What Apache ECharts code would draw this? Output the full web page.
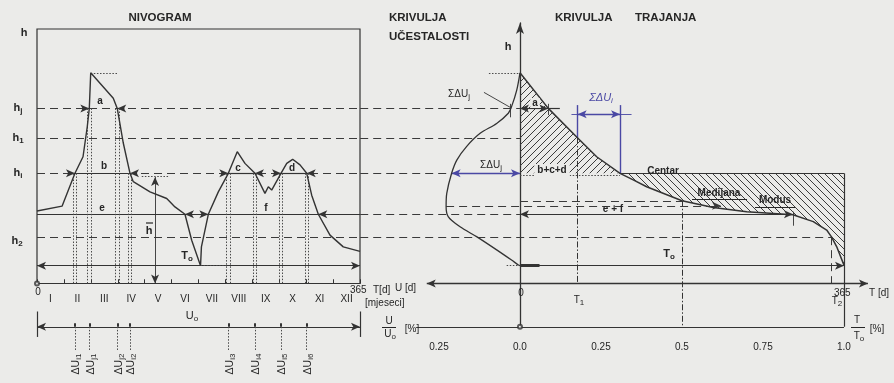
<!DOCTYPE html>
<html><head><meta charset="utf-8">
<script src="https://cdn.jsdelivr.net/npm/echarts@6/dist/echarts.min.js"></script>
<style>html,body{margin:0;padding:0;background:#ebebe9;}#c{width:894px;height:383px;}</style>
</head><body><div id="c"></div>
<script>
// ---------------- data ----------------
const months = ['I','II','III','IV','V','VI','VII','VIII','IX','X','XI','XII'];
// nivogram: water level h over the year, T in days
const nivoT = [0, 28.3, 42.9, 52.0, 56.8, 59.1, 60.7, 86.2, 90.7, 97.5, 105.1, 108.8, 127.7, 146.6, 155.9, 167.2, 174.8, 184.8, 185.8, 193.6, 204.9, 216.2, 226.3, 235.0, 246.3, 257.6, 261.4, 265.2, 275.7, 282.2, 288.9, 297.2, 304.8, 310.4, 317.9, 331.1, 346.1, 365];
const nivoH = [28.5, 30.4, 43.3, 49.8, 61.6, 68.8, 82.8, 72.8, 68.8, 55.2, 43.3, 40.0, 36.0, 33.4, 30.1, 27.2, 17.0, 7.0, 14.4, 27.2, 36.0, 43.3, 51.8, 47.2, 43.3, 35.4, 38.0, 36.7, 43.3, 47.2, 48.8, 46.6, 43.3, 34.7, 27.2, 19.0, 14.4, 12.6];
// duration curve (krivulja trajanja)
const durT = [0, 31.9, 65.0, 86.4, 112.7, 127.6, 142.7, 182.5, 217.8, 255.4, 307.5, 330.4, 345.5, 351.1, 356.7, 364.2, 365];
const durH = [82.8, 68.8, 57.2, 49.8, 43.3, 40.7, 38.0, 32.5, 29.9, 28.2, 27.0, 24.3, 21.0, 18.2, 14.5, 7.9, 7.0];
// frequency curve (krivulja ucestalosti), U/U0
const freqU = [0, 0.010, 0.026, 0.036, 0.072, 0.123, 0.165, 0.195, 0.211, 0.226, 0.228, 0.221, 0.185, 0.134, 0.072, 0.026, 0.005, 0];
const freqH = [82.8, 76.0, 69.5, 66.9, 62.9, 59.0, 53.8, 48.5, 43.3, 35.4, 30.2, 26.2, 22.3, 18.4, 13.2, 9.2, 7.3, 7.0];
// characteristic levels
const levelNames = ['hmax', 'hj', 'h1', 'hi', 'hbar', 'h2', 'hmin', 'hmed', 'hmod'];
const levelH = [82.8, 68.8, 57.2, 43.3, 27.2, 18.2, 7.0, 32.5, 30.5];
// crossing times of the nivogram with the levels
const crossHj = [59.1, 90.7];
const crossHi = [42.9, 105.1, 216.2, 246.3, 275.7, 304.8];
const crossHbar = [0, 167.2, 193.6, 317.9];
// marks on the duration axis (days)
const durMarkNames = ['Ta', 'T1', 'Tc', 'Tmed', 'Tef', 'T2', 'T0'];
const durMarkT = [31.9, 65.0, 112.7, 182.5, 307.5, 351.1, 365];
// frequency marks (U/U0)
const freqMarkNames = ['Uj', 'Ui', 'Umod'];
const freqMarkU = [0.030, 0.211, 0.228];
// mean-level arrow in the nivogram
const meanArrow = [133.4, 41.8];
// ratio axis ticks (U/U0 left of zero, T/T0 right of zero)
const ratioTicks = [-0.25, 0, 0.25, 0.5, 0.75, 1.0];

// ---------------- helpers ----------------
const FONT = '"Liberation Sans", Arial, sans-serif';
const INK = '#262626', LN = '#333333', BLUE = '#4a48a4';
const lv = {}; levelNames.forEach((n, i) => lv[n] = levelH[i]);
const dm = {}; durMarkNames.forEach((n, i) => dm[n] = durMarkT[i]);
const fm = {}; freqMarkNames.forEach((n, i) => fm[n] = freqMarkU[i] * 365);
const S = o => Object.assign({color: LN, width: 1, type: 'solid'}, o);
const solid = S({width: 1.2}), thin = S({width: 0.9}), thick = S({width: 3});
const dash = S({type: [8, 5], color: '#3a3a3a'});
const dot = S({type: [1.5, 1.6], color: '#4a4a4a'});
const dashdot = S({type: [6, 2, 1.5, 2]});
const blue = S({color: BLUE, width: 1.4});
const seg = (a, b, st, s1, s2) => [{coord: a, symbol: s1 || 'none', lineStyle: st}, {coord: b, symbol: s2 || 'none'}];
const ML = data => ({silent: true, symbol: 'none', symbolSize: [6, 9], label: {show: false}, animation: false, emphasis: {disabled: true}, data});

function hatch(dir) {
  const n = 7, c = document.createElement('canvas'); c.width = c.height = n;
  const g = c.getContext('2d'); g.strokeStyle = '#3c3c3c'; g.lineWidth = 1; g.beginPath();
  for (let k = -1; k <= 1; k++) {
    if (dir > 0) { g.moveTo(k * n, n); g.lineTo(k * n + n, 0); }
    else { g.moveTo(k * n, 0); g.lineTo(k * n + n, n); }
  }
  g.stroke(); return {image: c, repeat: 'repeat'};
}

// ---------------- left panel marks ----------------
const L = [];
['hj', 'h1', 'hi', 'h2'].forEach(k => L.push(seg([0, lv[k]], [365, lv[k]], dash)));
L.push(seg([0, lv.hbar], [365, lv.hbar], solid));
L.push(seg([0, lv.hmin], [365, lv.hmin], solid, 'arrow', 'arrow'));
for (let i = 0; i < crossHi.length; i += 2) L.push(seg([crossHi[i], lv.hi], [crossHi[i + 1], lv.hi], solid));
function inward(arr, h) {
  for (let i = 0; i < arr.length; i += 2) {
    L.push(seg([arr[i] - 8, h], [arr[i], h], solid, 'none', 'arrow'));
    L.push(seg([arr[i + 1] + 8, h], [arr[i + 1], h], solid, 'none', 'arrow'));
  }
}
inward(crossHj, lv.hj); inward(crossHi, lv.hi); inward(crossHbar, lv.hbar);
const dbl = 1.9;
crossHj.forEach(t => { L.push(seg([t - dbl, lv.hj], [t - dbl, 0], dot)); L.push(seg([t + dbl, lv.hj], [t + dbl, 0], dot)); });
crossHi.forEach(t => { L.push(seg([t - dbl, lv.hi], [t - dbl, 0], dot)); L.push(seg([t + dbl, lv.hi], [t + dbl, 0], dot)); });
L.push(seg([nivoT[nivoH.indexOf(lv.hmax)], lv.hmax], [crossHj[1], lv.hmax], dot));
L.push(seg([nivoT[nivoH.indexOf(lv.hmin)], lv.hmin], [crossHi[2], lv.hmin], dot));
L.push(seg([meanArrow[0], meanArrow[1]], [meanArrow[0], 0], thin, 'arrow', 'arrow'));
L.push(seg([meanArrow[0] - 15, meanArrow[1] + 0.2], [meanArrow[0] + 15, meanArrow[1] + 0.2], dot));
// U0 line below the axis
const u0 = -17;
L.push(seg([0, u0], [365, u0], solid, 'arrow', 'arrow'));
L.push(seg([0, -11], [0, -21], solid)); L.push(seg([365, -11], [365, -21], solid));
[...crossHj, ...crossHi].forEach(t => { L.push(seg([t, u0 + 1.4], [t, u0], S({width: 2}))); L.push(seg([t, u0], [t, -26.5], dot)); });

// ---------------- right panel marks ----------------
const R = [];
['hj', 'h1'].forEach(k => R.push(seg([-180, lv[k]], [0, lv[k]], dash)));
R.push(seg([0, lv.hj], [dm.Ta, lv.hj], solid, 'arrow', 'arrow'));
R.push(seg([dm.Ta, lv.hj], [dm.Ta + 13, lv.hj], solid));
R.push(seg([dm.Ta, lv.hj + 1.8], [dm.Ta, lv.hj - 2.6], thin));
R.push(seg([-fm.Uj, lv.hj + 1.8], [-fm.Uj, lv.hj - 3.5], thin));
R.push(seg([-40.6, 75.1], [-fm.Uj, lv.hj + 0.4], thin));
R.push(seg([-180, lv.hi], [-fm.Ui, lv.hi], dash));
R.push(seg([-fm.Ui, lv.hi], [0, lv.hi], blue, 'arrow', 'arrow'));
R.push(seg([0, lv.hi - 0.6], [dm.Tc, lv.hi - 0.6], dot));
R.push(seg([dm.Tc, lv.hi], [365, lv.hi], solid));
R.push(seg([-180, lv.hbar], [0, lv.hbar], dash));
R.push(seg([0, lv.hbar], [dm.Tef, lv.hbar], solid, 'arrow', 'arrow'));
R.push(seg([dm.Tef, lv.hbar + 1], [dm.Tef, lv.hbar - 4.5], thin));
R.push(seg([0, lv.hmed], [dm.Tmed, lv.hmed], dash));
R.push(seg([-fm.Umod, lv.hmod], [dm.Tmed + 44, lv.hmod], dash, 'none', 'arrow'));
R.push(seg([-180, lv.h2], [dm.T2, lv.h2], dash));
R.push(seg([dm.T2, lv.h2], [dm.T2, 0], dash));
R.push(seg([0, lv.hmin], [365, lv.hmin], solid, 'none', 'arrow'));
R.push(seg([0, lv.hmin], [22, lv.hmin], thick));
R.push(seg([-15, lv.hmin], [0, lv.hmin], dot));
R.push(seg([-35, lv.hmax], [0, lv.hmax], dot));
R.push(seg([dm.T1, 70.1], [dm.T1, lv.h1], blue));
R.push(seg([dm.Tc, 70.1], [dm.Tc, lv.hi], blue));
R.push(seg([dm.T1 - 7, 66.5], [dm.Tc + 13, 66.5], S({color: BLUE, width: 0.9})));
R.push(seg([dm.T1, 66.5], [dm.Tc, 66.5], blue, 'arrow', 'arrow'));
R.push(seg([dm.T1, lv.h1], [dm.T1, 0], dashdot));
R.push(seg([dm.Tmed, lv.hmed], [dm.Tmed, u0], dashdot));
R.push(seg([365, lv.hi], [365, u0], solid));
R.push(seg([-105, 0], [392, 0], S({width: 1.4}), 'arrow', 'arrow'));
R.push(seg([-117, u0], [365, u0], solid));
[-0.25, 0.25, 0.5, 0.75].forEach(r => R.push(seg([r * 365, u0], [r * 365, u0 - 1.2], thin)));

const iC = durT.indexOf(dm.Tc);
const upperPoly = durT.slice(0, iC + 1).map((t, i) => [t, durH[i]]).concat([[0, lv.hi]]);
const lowerPoly = durT.slice(iC).map((t, i) => [t, durH[iC + i]]).concat([[365, lv.hi]]);
const polySeries = (pts, pat) => ({type: 'custom', xAxisIndex: 2, yAxisIndex: 1, data: [[0, 0]], silent: true, z: 1, clip: false,
  renderItem: (p, api) => ({type: 'polygon', shape: {points: pts.map(q => api.coord(q))}, style: {fill: pat, stroke: null}})});

// ---------------- texts ----------------
function tx(x, y, text, o = {}) {
  const fs = o.size || 10, fw = o.bold ? 'bold' : 'normal', col = o.color || INK, st = o.italic ? 'italic' : 'normal';
  return {type: 'text', x, y, z: 100, silent: true, rotation: o.rot || 0,
    style: {text, fill: col, fontFamily: FONT, fontSize: fs, fontWeight: fw, fontStyle: st,
      textAlign: o.align || 'center', textVerticalAlign: 'middle', backgroundColor: o.bg, padding: o.pad,
      rich: {m: {fontSize: fs, fontFamily: FONT, fontWeight: fw, fill: col, fontStyle: st, verticalAlign: 'middle', lineHeight: fs + 3},
             s: {fontSize: Math.round(fs * 0.75), fontFamily: FONT, fontWeight: fw, fill: col, fontStyle: st, verticalAlign: 'bottom', lineHeight: fs + 3}}}};
}
const sub = (m, s) => '{m|' + m + '}{s|' + s + '}';
const gl = (x1, y1, x2, y2, c, w) => ({type: 'line', z: 100, silent: true, shape: {x1, y1, x2, y2}, style: {stroke: c || INK, lineWidth: w || 1}});
const G = [
  tx(160, 18, 'NIVOGRAM', {bold: true, size: 11.5}),
  tx(389, 18, 'KRIVULJA', {bold: true, size: 11.5, align: 'left'}),
  tx(389, 37, 'UČESTALOSTI', {bold: true, size: 11.5, align: 'left'}),
  tx(555, 18, 'KRIVULJA', {bold: true, size: 11.5, align: 'left'}),
  tx(635, 18, 'TRAJANJA', {bold: true, size: 11.5, align: 'left'}),
  tx(24, 33, 'h', {bold: true, size: 11}),
  tx(18, 108, sub('h', 'j'), {bold: true, size: 11}),
  tx(18, 138, sub('h', '1'), {bold: true, size: 11}),
  tx(18, 173, sub('h', 'i'), {bold: true, size: 11}),
  tx(17, 241, sub('h', '2'), {bold: true, size: 11}),
  tx(100, 101, 'a', {bold: true}), tx(104, 166, 'b', {bold: true}), tx(102, 208, 'e', {bold: true}),
  tx(238, 168, 'c', {bold: true}), tx(292, 168, 'd', {bold: true}), tx(266, 208, 'f', {bold: true}),
  tx(149, 231, 'h', {bold: true, size: 11}), gl(146, 223, 153, 223, INK, 1.2),
  tx(187, 256, sub('T', 'o'), {bold: true, size: 11}),
  tx(38, 292, '0', {size: 10}),
  tx(350, 290, '365', {size: 10, align: 'left'}),
  tx(373, 290, 'T[d]', {size: 10, align: 'left'}),
  tx(395, 288, 'U [d]', {size: 10, align: 'left'}),
  tx(365, 303, '[mjeseci]', {size: 10, align: 'left'}),
  tx(192, 316, sub('U', 'o'), {size: 11}),
  tx(389, 321, 'U', {size: 10}), gl(382, 327.5, 396, 327.5, INK, 1), tx(390, 334, sub('U', 'o'), {size: 10}), tx(412, 329, '[%]', {size: 10}),
  // right panel
  tx(508, 47, 'h', {bold: true, size: 11}),
  tx(459, 94, sub('ΣΔU', 'j'), {size: 10}),
  tx(535, 103, 'a', {bold: true, bg: '#ebebe9', pad: [0, 2]}),
  tx(491, 165, sub('ΣΔU', 'j'), {size: 10}),
  tx(552, 170, 'b+c+d', {bold: true, bg: '#ebebe9', pad: [1, 3]}),
  tx(601, 98, sub('ΣΔU', 'i'), {size: 11, color: BLUE, italic: true}),
  tx(663, 171, 'Centar', {bold: true}),
  tx(719, 193, 'Medijana', {bold: true}), gl(692, 199.5, 747, 199.5, INK, 1),
  tx(775, 200, 'Modus', {bold: true}), gl(755, 207.5, 795, 207.5, INK, 1),
  tx(613, 209, 'e + f', {bold: true}),
  tx(669, 254, sub('T', 'o'), {bold: true, size: 11}),
  tx(521, 293, '0', {size: 10}),
  tx(579, 300, sub('T', '1'), {size: 10}),
  tx(834, 293, '365', {size: 10, align: 'left'}),
  tx(869, 293, 'T [d]', {size: 10, align: 'left'}),
  tx(837, 301, sub('T', '2'), {size: 10}),
  tx(857, 320, 'T', {size: 10}), gl(851, 327.5, 865, 327.5, INK, 1), tx(859, 336, sub('T', 'o'), {size: 10}), tx(877, 329, '[%]', {size: 10})
];
const duLabels = [['i1', crossHi[0]], ['j1', crossHj[0]], ['j2', crossHj[1]], ['i2', crossHi[1]], ['i3', crossHi[2]], ['i4', crossHi[3]], ['i5', crossHi[4]], ['i6', crossHi[5]]];
duLabels.forEach(([s, t]) => G.push(tx(37 + t * 323 / 365 + 1.5, 364, sub('ΔU', s), {size: 10.5, rot: Math.PI / 2})));

// ---------------- chart ----------------
const chart = echarts.init(document.getElementById('c'), null, {renderer: 'canvas'});
const hidden = {show: false};
chart.setOption({
  animation: false,
  backgroundColor: '#ebebe9',
  textStyle: {fontFamily: FONT},
  grid: [
    {left: 37, top: 29, width: 323, height: 353.755},
    {left: 360.2, top: 22.89, width: 510.41, height: 303.87}
  ],
  xAxis: [
    {gridIndex: 0, type: 'value', min: 0, max: 365, show: false, axisLine: {onZero: false}},
    {gridIndex: 0, type: 'category', data: months, position: 'bottom', boundaryGap: true, offset: -99.5,
      axisLine: {onZero: false, lineStyle: {color: LN, width: 1.2}},
      axisTick: {show: true, inside: true, length: 4, lineStyle: {color: LN}},
      axisLabel: {color: INK, fontSize: 10, margin: 11, fontFamily: FONT}, splitLine: hidden},
    {gridIndex: 1, type: 'value', min: -180, max: 395, axisLine: {show: false, onZero: true}, axisTick: hidden, axisLabel: hidden, splitLine: hidden},
    {gridIndex: 1, type: 'value', min: -180, max: 395, position: 'bottom',
      axisLine: {show: false, onZero: false}, axisTick: hidden, splitLine: hidden,
      axisLabel: {show: true, customValues: ratioTicks.map(r => r * 365), margin: 15, fontSize: 10, color: INK, fontFamily: FONT,
        formatter: v => { const r = Math.round(Math.abs(v) / 365 * 100) / 100; return r === 0 ? '0.0' : (r === 1 ? '1.0' : String(r)); }}}
  ],
  yAxis: [
    {gridIndex: 0, type: 'value', min: -39, max: 100, axisLine: {show: false}, axisTick: hidden, axisLabel: hidden, splitLine: hidden},
    {gridIndex: 1, type: 'value', min: -17, max: 102.4, axisLine: {show: true, onZero: true, symbol: ['none', 'arrow'], symbolSize: [6, 11], lineStyle: {color: LN, width: 1.3}},
      axisTick: hidden, axisLabel: hidden, splitLine: hidden}
  ],
  graphic: G,
  series: [
    {type: 'line', name: 'nivogram', xAxisIndex: 0, yAxisIndex: 0, data: nivoT.map((t, i) => [t, nivoH[i]]), showSymbol: false, clip: false, silent: true, z: 5,
      lineStyle: {color: LN, width: 1.4},
      markLine: ML(L),
      markArea: {silent: true, itemStyle: {color: 'rgba(0,0,0,0)', borderColor: LN, borderWidth: 1.2}, data: [[{coord: [0, 0]}, {coord: [365, 100]}]]}},
    polySeries(upperPoly, hatch(1)),
    polySeries(lowerPoly, hatch(-1)),
    {type: 'line', name: 'trajanje', xAxisIndex: 2, yAxisIndex: 1, data: durT.map((t, i) => [t, durH[i]]), showSymbol: false, clip: false, silent: true, z: 5,
      lineStyle: {color: LN, width: 1.5}, markLine: ML(R)},
    {type: 'line', name: 'ucestalost', xAxisIndex: 2, yAxisIndex: 1, data: freqU.map((u, i) => [-u * 365, freqH[i]]), showSymbol: false, clip: false, silent: true, z: 5,
      smooth: 0.3, lineStyle: {color: LN, width: 1.3}},
    {type: 'scatter', xAxisIndex: 0, yAxisIndex: 0, data: [[0, 0]], symbol: 'emptyCircle', symbolSize: 4, clip: false, silent: true, z: 6, itemStyle: {color: LN, borderColor: LN}},
    {type: 'scatter', xAxisIndex: 2, yAxisIndex: 1, data: [[0, u0]], symbol: 'emptyCircle', symbolSize: 4, clip: false, silent: true, z: 6, itemStyle: {color: LN, borderColor: LN}}
  ]
});
</script></body></html>
